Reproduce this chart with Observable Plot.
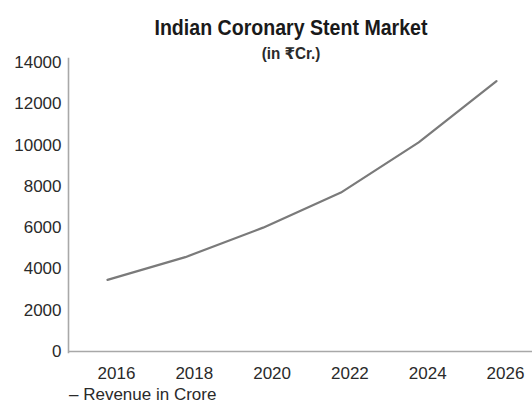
<!DOCTYPE html>
<html>
<head>
<meta charset="utf-8">
<script src="https://cdn.jsdelivr.net/npm/d3@7"></script>
<script src="https://cdn.jsdelivr.net/npm/@observablehq/plot@0.6"></script>
<style>
  html, body { margin: 0; padding: 0; background: #fff; }
  #wrap { position: relative; width: 532px; height: 403px; overflow: hidden; font-family: "Liberation Sans", Arial, sans-serif; }
  #title { position: absolute; left: 50px; width: 482px; top: 15px; text-align: center; font-family: "Liberation Sans", Arial, sans-serif; font-weight: bold; font-size: 22px; line-height: 26px; color: #1a1a1a; transform: scaleX(0.89); transform-origin: 241px 0; }
  #subtitle { position: absolute; left: 50px; width: 482px; top: 44px; text-align: center; font-family: "Liberation Sans", "DejaVu Sans", sans-serif; font-weight: bold; font-size: 16px; line-height: 19px; color: #2a2a2a; transform: scaleX(0.95); transform-origin: 241px 0; }
  #chart { position: absolute; left: 0; top: 50px; }
  #legend { position: absolute; left: 69px; top: 385px; font-size: 17px; line-height: 20px; color: #2a2a2a; }
</style>
</head>
<body>
<div id="wrap">
  <div id="chart"></div>
  <div id="title">Indian Coronary Stent Market</div>
  <div id="subtitle">(in ₹Cr.)</div>
  <div id="legend">– Revenue in Crore</div>
</div>
<script>
const years = [2016, 2018, 2020, 2022, 2024, 2026];
const revenue = [3470, 4570, 6000, 7700, 10130, 13100];
const yTicks = [0, 2000, 4000, 6000, 8000, 10000, 12000, 14000];
const xTicks = [2016, 2018, 2020, 2022, 2024, 2026];
const seriesName = "Revenue in Crore";

const data = years.map((y, i) => ({year: y, value: revenue[i], series: seriesName}));

const chart = Plot.plot({
  width: 532,
  height: 335,
  marginLeft: 68,
  marginRight: 0,
  marginTop: 8,
  marginBottom: 33,
  style: {fontFamily: "'Liberation Sans', Arial, sans-serif", fontSize: "17px", color: "#2a2a2a", background: "transparent", overflow: "visible"},
  x: {domain: [2016, 2026], range: [107, 496], ticks: xTicks, tickFormat: d => String(d)},
  y: {domain: [0, 14000], range: [301, 12], ticks: yTicks, tickFormat: d => String(d)},
  marks: [
    Plot.axisY({ticks: yTicks, tickFormat: d => String(d), tickSize: 0, tickPadding: 7, label: null, fill: "#2a2a2a"}),
    Plot.axisX({ticks: xTicks, tickFormat: d => String(d), tickSize: 0, tickPadding: 14, label: null, dx: 9, fill: "#2a2a2a"}),
    Plot.frame({anchor: "left", stroke: "#a8a8a8", strokeWidth: 1.6}),
    Plot.ruleY([0], {stroke: "#a8a8a8", strokeWidth: 1.6}),
    Plot.line(data, {x: "year", y: "value", stroke: "#7a7a7a", strokeWidth: 2.2})
  ]
});
document.getElementById("chart").appendChild(chart);
</script>
</body>
</html>
